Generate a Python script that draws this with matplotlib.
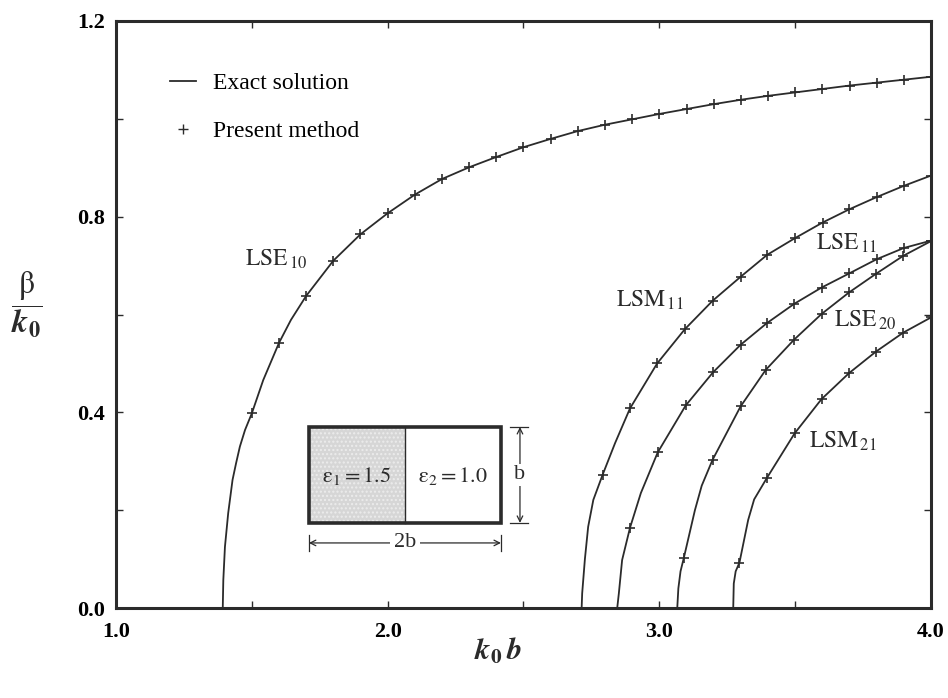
import numpy as np
import matplotlib
matplotlib.use("Agg")
import matplotlib.pyplot as plt
from matplotlib.lines import Line2D
from matplotlib.patches import Rectangle

plt.rcParams['font.family'] = ['Liberation Serif', 'DejaVu Serif']
plt.rcParams['mathtext.fontset'] = 'stix'

# ---- data (k0*b, beta/k0) ----
# exact solution, extra points on the steep part of each curve
lse10_line_x = [1.393, 1.395, 1.401, 1.413, 1.429, 1.442, 1.456, 1.475, 1.500, 1.542, 1.600, 1.644]
lse10_line_y = [0.0, 0.057, 0.125, 0.194, 0.262, 0.296, 0.330, 0.364, 0.398, 0.466, 0.542, 0.589]
lsm11_line_x = [2.714, 2.716, 2.726, 2.738, 2.757, 2.791, 2.837]
lsm11_line_y = [0.0, 0.030, 0.100, 0.166, 0.221, 0.272, 0.337]
lse11_line_x = [2.845, 2.851, 2.863, 2.892, 2.932]
lse11_line_y = [0.0, 0.030, 0.098, 0.164, 0.235]
lse20_line_x = [3.066, 3.070, 3.078, 3.090, 3.131, 3.156]
lse20_line_y = [0.0, 0.040, 0.075, 0.102, 0.200, 0.250]
lsm21_line_x = [3.272, 3.274, 3.281, 3.295, 3.327, 3.349]
lsm21_line_y = [0.0, 0.050, 0.075, 0.093, 0.180, 0.222]

# present method points (these also lie on the exact curve)
lse10_x = [1.50, 1.60, 1.70, 1.80, 1.90, 2.00, 2.10, 2.20, 2.30, 2.40, 2.50, 2.60, 2.70,
           2.80, 2.90, 3.00, 3.10, 3.20, 3.30, 3.40, 3.50, 3.60, 3.70, 3.80, 3.90, 4.00]
lse10_y = [0.398, 0.542, 0.638, 0.710, 0.764, 0.807, 0.845, 0.877, 0.901, 0.922, 0.942, 0.959, 0.975,
           0.988, 0.999, 1.010, 1.020, 1.030, 1.039, 1.047, 1.054, 1.061, 1.068, 1.074, 1.080, 1.086]
lsm11_x = [2.791, 2.892, 2.992, 3.094, 3.196, 3.299, 3.397, 3.499, 3.601, 3.699, 3.800, 3.900, 4.000]
lsm11_y = [0.272, 0.408, 0.500, 0.570, 0.628, 0.677, 0.722, 0.756, 0.788, 0.815, 0.840, 0.863, 0.884]
lse11_x = [2.892, 2.994, 3.097, 3.198, 3.299, 3.395, 3.497, 3.597, 3.699, 3.800, 3.900, 4.000]
lse11_y = [0.164, 0.318, 0.414, 0.482, 0.538, 0.582, 0.622, 0.655, 0.684, 0.713, 0.736, 0.751]
lse20_x = [3.090, 3.196, 3.299, 3.392, 3.495, 3.597, 3.698, 3.797, 3.898, 4.000]
lse20_y = [0.102, 0.303, 0.412, 0.487, 0.548, 0.601, 0.645, 0.683, 0.720, 0.750]
lsm21_x = [3.295, 3.395, 3.498, 3.597, 3.698, 3.797, 3.898, 4.000]
lsm21_y = [0.093, 0.265, 0.357, 0.427, 0.480, 0.524, 0.563, 0.594]

modes = [
    ("LSE", "10", lse10_line_x, lse10_line_y, lse10_x, lse10_y),
    ("LSM", "11", lsm11_line_x, lsm11_line_y, lsm11_x, lsm11_y),
    ("LSE", "11", lse11_line_x, lse11_line_y, lse11_x, lse11_y),
    ("LSE", "20", lse20_line_x, lse20_line_y, lse20_x, lse20_y),
    ("LSM", "21", lsm21_line_x, lsm21_line_y, lsm21_x, lsm21_y),
]
# label anchor (left, baseline) for each mode, in data units
label_pos = [(1.475, 0.700), (2.842, 0.616), (3.576, 0.732), (3.643, 0.575), (3.552, 0.327)]

eps1 = "1.5"
eps2 = "1.0"

ink = '#2b2b2b'

fig = plt.figure(figsize=(9.48, 6.98), dpi=100)
ax = fig.add_axes([116 / 948, 1 - 608 / 698, 815 / 948, 587 / 698])

for (name, sub, lx_, ly_, mx, my), (lx, ly) in zip(modes, label_pos):
    # exact curve: steep-part points followed by the remaining marker points
    cx = list(lx_) + [x for x in mx if x > lx_[-1]]
    cy = list(ly_) + [y for x, y in zip(mx, my) if x > lx_[-1]]
    ax.plot(cx, cy, color=ink, lw=1.3)
    ax.plot(mx, my, ls='none', marker='+', ms=7.5, mew=1.2, color=ink)
    ax.text(lx, ly, r'$\mathrm{%s}_{\,%s}$' % (name, sub), fontsize=17,
            ha='left', va='baseline', color=ink)

ax.set_xlim(1.0, 4.0)
ax.set_ylim(0.0, 1.2)
ax.set_xticks([1.0, 2.0, 3.0, 4.0])
ax.set_xticks([1.5, 2.5, 3.5], minor=True)
ax.set_yticks([0.0, 0.4, 0.8, 1.2])
ax.set_yticks([0.2, 0.6, 1.0], minor=True)
ax.set_xticklabels(['1.0', '2.0', '3.0', '4.0'], fontweight='bold', fontsize=16)
ax.set_yticklabels(['0.0', '0.4', '0.8', '1.2'], fontweight='bold', fontsize=16)
ax.tick_params(which='both', direction='in', top=True, right=True, length=5, width=1, color=ink)
ax.tick_params(axis='x', pad=10)
ax.tick_params(axis='y', pad=8)
for s in ax.spines.values():
    s.set_linewidth(2.2)
    s.set_color(ink)

# legend
handles = [Line2D([], [], color=ink, lw=1.3),
           Line2D([], [], ls='none', marker='+', ms=7, mew=1.0, color=ink)]
ax.legend(handles, ['Exact solution', 'Present method'], loc='upper left',
          bbox_to_anchor=(0.066, 0.912), frameon=False, fontsize=17, borderpad=0,
          handlelength=1.1, handletextpad=0.75, labelspacing=1.12, borderaxespad=0)

# inset: half-filled guide cross-section
x0, x1, xm = 1.710, 2.417, 2.064
y0, y1 = 0.174, 0.370
ax.add_patch(Rectangle((x0, y0), xm - x0, y1 - y0, facecolor='#d6d6d6', edgecolor='none', lw=0))
ax.add_patch(Rectangle((x0, y0), xm - x0, y1 - y0, facecolor='none', edgecolor='#ececec',
                       hatch='....', lw=0))
ax.plot([xm, xm], [y0, y1], color=ink, lw=1.0)
ax.add_patch(Rectangle((x0, y0), x1 - x0, y1 - y0, facecolor='none', edgecolor=ink, lw=2.6))
ax.text((x0 + xm) / 2, 0.270, r'$\mathrm{\varepsilon}_1 = %s$' % eps1, fontsize=16,
        ha='center', va='center', color=ink)
ax.text((xm + x1) / 2, 0.270, r'$\mathrm{\varepsilon}_2 = %s$' % eps2, fontsize=16,
        ha='center', va='center', color=ink)

# dimension b
xb = 2.487
ax.plot([2.450, 2.515], [y1, y1], color=ink, lw=0.9)
ax.plot([2.450, 2.515], [y0, y0], color=ink, lw=0.9)
ax.annotate('', xy=(xb, y1), xytext=(xb, y0),
            arrowprops=dict(arrowstyle='<->', lw=0.9, color=ink, shrinkA=0, shrinkB=0))
ax.text(xb, 0.272, 'b', fontsize=16, ha='center', va='center', color=ink,
        bbox=dict(facecolor='white', edgecolor='none', pad=1))

# dimension 2b
yb = 0.133
ax.plot([x0, x0], [0.117, 0.149], color=ink, lw=0.9)
ax.plot([x1, x1], [0.117, 0.149], color=ink, lw=0.9)
ax.annotate('', xy=(x0, yb), xytext=(x1, yb),
            arrowprops=dict(arrowstyle='<->', lw=0.9, color=ink, shrinkA=0, shrinkB=0))
ax.text(xm, yb, '2b', fontsize=16, ha='center', va='center', color=ink,
        bbox=dict(facecolor='white', edgecolor='none', pad=3))

# axis labels
fig.text(498 / 948, 1 - 652 / 698, r'$\mathbfit{k}_{\mathbf{0}}\,\mathbfit{b}$', fontsize=22,
         ha='center', va='center', color=ink)
fig.text(27 / 948, 1 - 305 / 698, r'$\dfrac{\mathrm{\beta}}{\mathbfit{k}_{\mathbf{0}}}$', fontsize=23,
         ha='center', va='center', color=ink)

fig.savefig('out.png', dpi=100, facecolor='white')
